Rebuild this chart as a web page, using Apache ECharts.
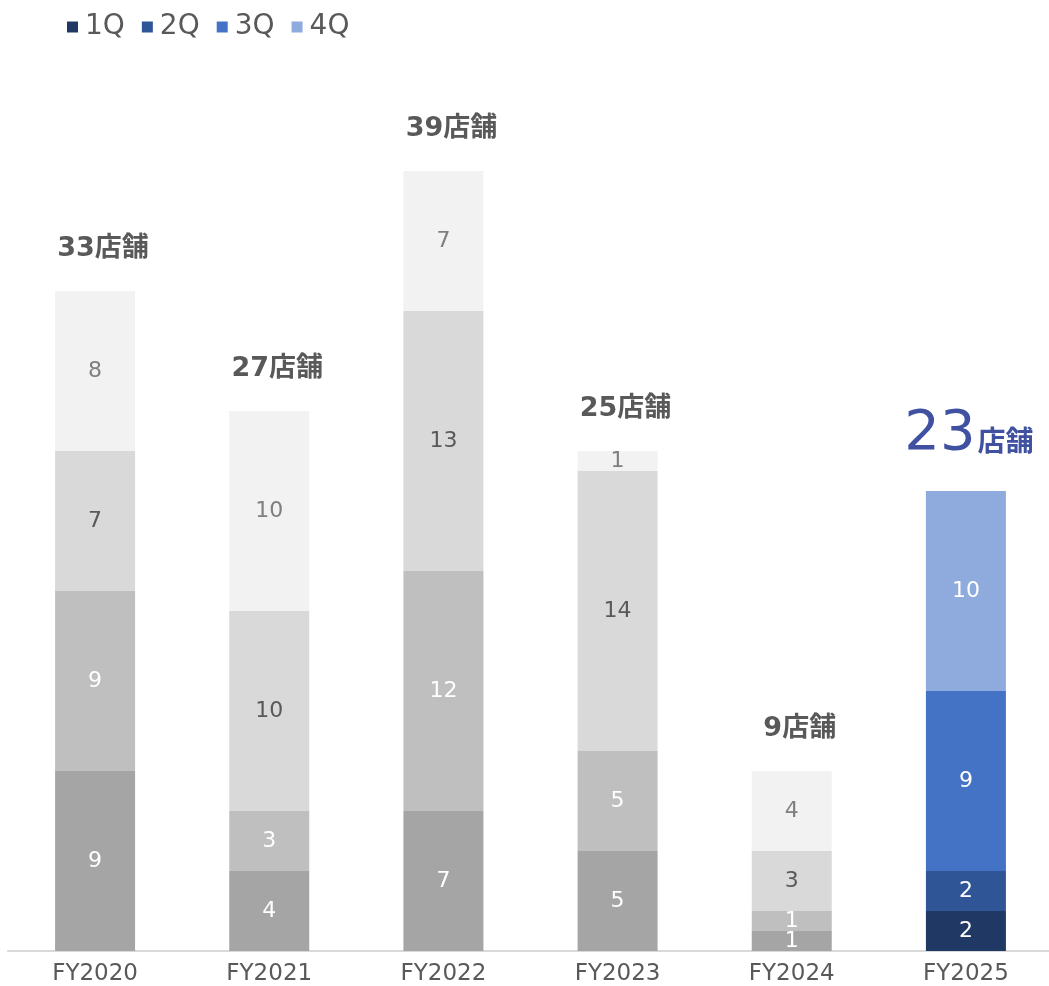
<!DOCTYPE html>
<html><head><meta charset="utf-8">
<script src="https://cdn.jsdelivr.net/npm/echarts@6/dist/echarts.min.js"></script>
<style>html,body{margin:0;padding:0;background:#fff}#c{width:1049px;height:986px}</style>
</head><body><div id="c"></div>
<script>
const categories = ['FY2020','FY2021','FY2022','FY2023','FY2024','FY2025'];
const q1 = [9, 4, 7, 5, 1, 2];
const q2 = [9, 3, 12, 5, 1, 2];
const q3 = [7, 10, 13, 14, 3, 9];
const q4 = [8, 10, 7, 1, 4, 10];
const seriesNames = ['1Q','2Q','3Q','4Q'];
const unitText = '店舗';

const blueColors = ['#203864','#2F5597','#4472C4','#8FAADC'];
const greyColors = ['#A5A5A5','#BFBFBF','#D9D9D9','#F2F2F2'];
const greyLabel = ['#FFFFFF','#FFFFFF','#595959','#7F7F7F'];
const highlightIdx = 5;
const FONT = '"DejaVu Sans", "Noto Sans CJK JP", sans-serif';
const CJK = '"Noto Sans CJK JP", sans-serif';

const all = [q1,q2,q3,q4];
const totals = categories.map((_, i) => all.reduce((s, a) => s + a[i], 0));

const series = all.map((arr, k) => ({
  name: seriesNames[k],
  type: 'bar',
  stack: 'total',
  barWidth: 80,
  itemStyle: { color: blueColors[k] },
  label: { show: true, position: 'inside', fontSize: 22, fontFamily: FONT, color: '#fff' },
  data: arr.map((v, i) => i === highlightIdx ? { value: v } : {
    value: v,
    itemStyle: { color: greyColors[k] },
    label: { color: greyLabel[k] }
  })
}));

series.push({
  name: 'total',
  type: 'bar',
  stack: 'total',
  barWidth: 80,
  itemStyle: { color: 'transparent' },
  label: {
    show: true,
    position: 'top',
    distance: 29,
    offset: [8, 0],
    fontFamily: FONT,
    formatter: p => p.dataIndex === highlightIdx ? '{big|' + totals[p.dataIndex] + '}{bu|' + unitText + '}' : '{n|' + totals[p.dataIndex] + unitText + '}',
    rich: {
      n: { fontSize: 27, fontWeight: 'bold', color: '#595959', fontFamily: FONT },
      big: { fontSize: 56, color: '#3F51A0', fontFamily: FONT, verticalAlign: 'bottom', lineHeight: 60 },
      bu: { fontSize: 28, fontWeight: 'bold', color: '#3F51A0', fontFamily: CJK, verticalAlign: 'bottom', lineHeight: 46, padding: [0, 0, 8, 2] }
    }
  },
  data: categories.map((c, i) => i === highlightIdx ? { value: 0, label: { offset: [3, 0] } } : 0)
});

const chart = echarts.init(document.getElementById('c'), null, { renderer: 'canvas' });
chart.setOption({
  animation: false,
  legend: {
    data: seriesNames,
    left: 62, top: 8,
    itemWidth: 11, itemHeight: 11, itemGap: 17,
    icon: 'rect',
    textStyle: { fontSize: 28, color: '#595959', fontFamily: FONT, padding: [0,0,0,2] }
  },
  grid: { left: 8, width: 1045, top: 51, bottom: 35, containLabel: false, outerBoundsMode: 'none' },
  xAxis: {
    type: 'category', data: categories,
    axisLine: { lineStyle: { color: '#D9D9D9', width: 2 } },
    axisTick: { show: false },
    axisLabel: { fontSize: 23, color: '#595959', fontFamily: FONT, margin: 12 }
  },
  yAxis: { type: 'value', min: 0, max: 45, show: false, splitLine: { show: false } },
  series
});
</script></body></html>
